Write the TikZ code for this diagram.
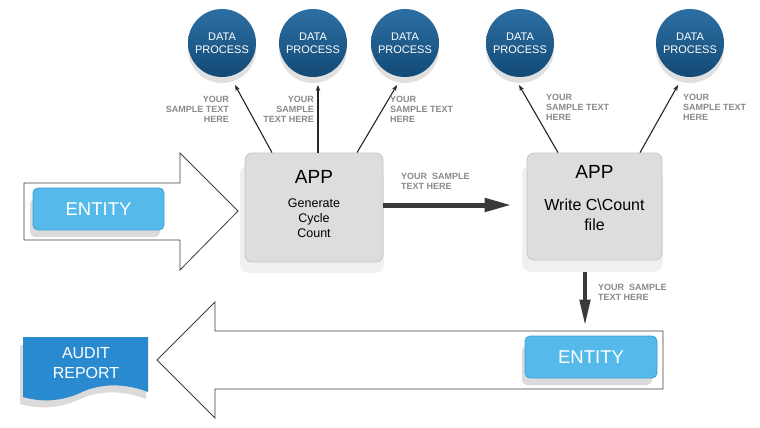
\documentclass[tikz,border=0pt]{standalone}
\usepackage{fontspec}
\setmainfont{Liberation Sans}
\usetikzlibrary{arrows.meta}
\definecolor{dptop}{HTML}{2C6FA3}
\definecolor{dpbot}{HTML}{134A76}
\definecolor{entblue}{HTML}{55BAEA}
\definecolor{entedge}{HTML}{3A9FD2}
\definecolor{auditblue}{HTML}{2A8AD0}
\definecolor{appfill}{HTML}{DDDDDD}
\definecolor{appedge}{HTML}{C6C6C6}
\definecolor{lblgray}{HTML}{8A8A8A}
\definecolor{fatgray}{HTML}{3A3A3A}
\begin{document}
\begin{tikzpicture}[x=1pt,y=-1pt,
  dp/.style={circle, minimum size=68pt, inner sep=0pt, top color=dptop, bottom color=dpbot,
    draw=none, text=white, align=center, font=\fontsize{11}{13}\selectfont},
  dpshadow/.style={fill=black!12},
  appbox/.style={rectangle, rounded corners=7pt, fill=appfill, draw=appedge, line width=0.8pt},
  appshadow/.style={fill=black!6, rounded corners=9pt},
  apptitle/.style={font=\fontsize{19}{21}\selectfont, inner sep=0pt},
  appsub/.style={font=\fontsize{12.5}{15}\selectfont, align=center, inner sep=0pt},
  appsubbig/.style={font=\fontsize{16}{20}\selectfont, align=center, inner sep=0pt},
  entity/.style={rectangle, rounded corners=5pt, fill=entblue, draw=entedge, line width=0.8pt,
    text=white, font=\fontsize{18.5}{20}\selectfont},
  entshadow/.style={fill=black!14, rounded corners=5pt},
  lbl/.style={font=\bfseries\fontsize{9}{10}\selectfont, text=lblgray, inner sep=0pt},
  conn/.style={draw=black!85, line width=1.1pt, -{Stealth[length=6pt,width=4.5pt]}},
  fat/.style={draw=fatgray, line width=5pt, -{Triangle[length=27pt,width=13pt]}},
  fatv/.style={draw=fatgray, line width=4.5pt, -{Triangle[length=27pt,width=10pt]}},
  bigarrow/.style={draw=black!75, fill=white, line width=0.8pt, line join=miter}
]
\useasboundingbox (0,0) rectangle (760,428);
\fill[white] (0,0) rectangle (760,428);

% big outline arrows
\path[bigarrow] (24,183) -- (180,183) -- (180,153) -- (238,211) -- (180,270) -- (180,240) -- (24,240) -- cycle;
\path[bigarrow] (663,331) -- (215,331) -- (215,302) -- (157,360) -- (215,418) -- (215,389) -- (663,389) -- cycle;

% data process circles
\foreach \n/\x in {dp1/222, dp2/313, dp3/405, dp4/520, dp5/690}{
  \fill[dpshadow] (\x,49) circle[radius=34];
  \node[dp] (\n) at (\x,43) {DATA\\PROCESS};
}

% app boxes
\fill[appshadow] (240,165) rectangle (384,273);
\node[appbox, minimum width=138pt, minimum height=109pt] (app1) at (314,207.5) {};
\node[apptitle] (t1) at (314,177) {APP};
\node[appsub] (s1) at (314,218) {Generate\\Cycle\\Count};

\fill[appshadow] (522,165) rectangle (663,272);
\node[appbox, minimum width=135pt, minimum height=107pt] (app2) at (594.5,206.5) {};
\node[apptitle] (t2) at (594.5,172) {APP};
\node[appsubbig] (s2) at (594.5,215) {Write C\textbackslash Count\\file};

% connectors to circles
\draw[conn] ([xshift=-42pt]app1.north) -- ([shift={(13,42)}]dp1.center);
\draw[conn] ([xshift=4pt]app1.north) -- ([shift={(5,42)}]dp2.center);
\draw[conn] ([xshift=43pt]app1.north) -- ([shift={(-8,42)}]dp3.center);
\draw[conn] ([xshift=-36.5pt]app2.north) -- ([shift={(-1,42)}]dp4.center);
\draw[conn] ([xshift=45.5pt]app2.north) -- ([shift={(-12,42)}]dp5.center);

% labels near connectors
\node[lbl, anchor=north east, align=right] (l1) at (229,96) {YOUR\\SAMPLE TEXT\\HERE};
\node[lbl, anchor=north east, align=right] (l2) at (314,96) {YOUR\\SAMPLE\\TEXT HERE};
\node[lbl, anchor=north west, align=left] (l3) at (390,96) {YOUR\\SAMPLE TEXT\\HERE};
\node[lbl, anchor=north west, align=left] (l4) at (546,94) {YOUR\\SAMPLE TEXT\\HERE};
\node[lbl, anchor=north west, align=left] (l5) at (683,94) {YOUR\\SAMPLE TEXT\\HERE};

% entities
\fill[entshadow] (30,199) rectangle (160,237);
\node[entity, minimum width=131pt, minimum height=42pt] (ent1) at (98.5,209) {ENTITY};
\fill[entshadow] (522,346) rectangle (652,385);
\node[entity, minimum width=132pt, minimum height=42pt] (ent2) at (591,357) {ENTITY};

% fat arrows
\draw[fat] ([yshift=2.5pt]app1.east) -- ([xshift=-15pt,yshift=1.5pt]app2.west);
\node[lbl, anchor=north west, align=left] (l6) at (401,173) {YOUR\ \ SAMPLE\\TEXT HERE};
\draw[fatv] ([xshift=-9.5pt,yshift=-12pt]app2.south) -- ([xshift=-6pt,yshift=9pt]ent2.north);
\node[lbl, anchor=north west, align=left] (l7) at (598,284) {YOUR\ \ SAMPLE\\TEXT HERE};

% audit report
\fill[black!14] (20,345) -- (146,345) -- (146,399) .. controls (123,390) and (98,390) .. (78,400)
  .. controls (58,409) and (38,409) .. (20,404) -- cycle;
\fill[auditblue] (23,337) -- (148,337) -- (148,392) .. controls (125,383) and (100,383) .. (80,393)
  .. controls (60,402) and (40,402) .. (23,397) -- cycle;
\node[text=white, align=center, font=\fontsize{16}{20}\selectfont] (audit) at (86,363) {AUDIT\\REPORT};
\end{tikzpicture}
\end{document}
